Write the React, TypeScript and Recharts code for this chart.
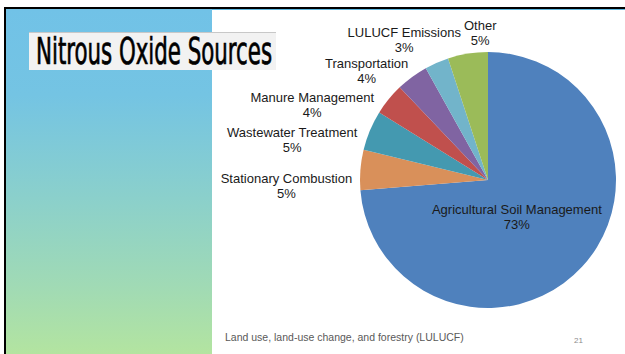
import { Cell, Pie, PieChart } from "recharts";

// N2O emission sources, percent of total
const sourceNames = [
    "Agricultural Soil Management",
    "Stationary Combustion",
    "Wastewater Treatment",
    "Manure Management",
    "Transportation",
    "LULUCF Emissions",
    "Other"
];
const sourceShares = [73, 5, 5, 4, 4, 3, 5];
const sliceColors = ["#4f81bd", "#d9905a", "#4499b0", "#c0504d", "#8064a2", "#72b4ca", "#9bbb59"];

const pieData = sourceNames.map((name, i) => ({ name, value: sourceShares[i] }));

const RADIAN = Math.PI / 180;

// label nudges from the polar anchor (Excel-style "best fit" placement)
const labelShift: Record<string, [number, number]> = {
    "Agricultural Soil Management": [-5, 6],
    "Stationary Combustion": [-58, 17],
    "Wastewater Treatment": [-63, 16],
    "Manure Management": [-64, 16],
    "Transportation": [-36, 7],
    "LULUCF Emissions": [-26, -8],
    "Other": [15, -5]
};

const renderLabel = (props: any) => {
    const { cx, cy, midAngle, outerRadius, name, value, index } = props;
    const r = index === 0 ? outerRadius * 0.36 : outerRadius + 16;
    const [dx, dy] = labelShift[name] || [0, 0];
    const x = cx + r * Math.cos(-midAngle * RADIAN) + dx;
    const y = cy + r * Math.sin(-midAngle * RADIAN) + dy;
    return (
        <g>
            <text x={x} y={y - 3} textAnchor="middle" fill="#1a1a1a" fontSize={13} fontFamily="Liberation Sans, Arial, sans-serif">
                {name}
            </text>
            <text x={x} y={y + 12} textAnchor="middle" fill="#1a1a1a" fontSize={13} fontFamily="Liberation Sans, Arial, sans-serif">
                {`${value}%`}
            </text>
        </g>
    );
};

const App = () => {
    return (
        <div style={{ position: "absolute", left: 0, top: 0, width: 625, height: 354, background: "#fff", overflow: "hidden" }}>
            {/* slide frame */}
            <div style={{ position: "absolute", left: 4, top: 7, width: 621, height: 2, background: "#000" }} />
            <div style={{ position: "absolute", left: 4, top: 7, width: 2, height: 347, background: "#000" }} />
            <div style={{ position: "absolute", left: 6, top: 9, width: 619, height: 1, background: "#5cb6de" }} />
            <div
                style={{
                    position: "absolute", left: 6, top: 9, width: 206, height: 345,
                    background: "linear-gradient(to bottom, #71c2e7 0%, #74c4e3 25%, #8bd0cb 55%, #a0dab5 80%, #b3e4a0 100%)"
                }}
            />

            {/* title */}
            <svg style={{ position: "absolute", left: 0, top: 0 }} width={300} height={80}>
                <rect x={29} y={32} width={247} height={38} fill="#f2f2f2" />
                <line x1={29} y1={32.5} x2={276} y2={32.5} stroke="#c8c8c8" strokeWidth={1} />
                <text
                    x={36}
                    y={64}
                    fontSize={38}
                    fill="#000"
                    stroke="#000"
                    strokeWidth={0.7}
                    fontFamily="Liberation Sans Narrow, DejaVu Sans Condensed, sans-serif"
                    textLength={236}
                    lengthAdjust="spacingAndGlyphs"
                >
                    Nitrous Oxide Sources
                </text>
            </svg>

            <div style={{ position: "absolute", left: 0, top: 0 }}>
                <PieChart width={625} height={354} margin={{ top: 0, right: 0, bottom: 0, left: 0 }}>
                    <Pie
                        data={pieData}
                        dataKey="value"
                        nameKey="name"
                        cx={488}
                        cy={180}
                        outerRadius={128}
                        startAngle={90}
                        endAngle={-270}
                        stroke="none"
                        label={renderLabel}
                        labelLine={false}
                        isAnimationActive={false}
                    >
                        {pieData.map((entry, i) => (
                            <Cell key={entry.name} fill={sliceColors[i]} />
                        ))}
                    </Pie>
                </PieChart>
            </div>

            <div style={{ position: "absolute", left: 225, top: 331, fontFamily: "Liberation Sans, Arial, sans-serif", fontSize: 10.5, color: "#595959", whiteSpace: "nowrap" }}>
                Land use, land-use change, and forestry (LULUCF)
            </div>
            <div style={{ position: "absolute", left: 574, top: 336, fontFamily: "Liberation Sans, Arial, sans-serif", fontSize: 8, color: "#8c8c8c" }}>
                21
            </div>
        </div>
    );
};

export default App;
